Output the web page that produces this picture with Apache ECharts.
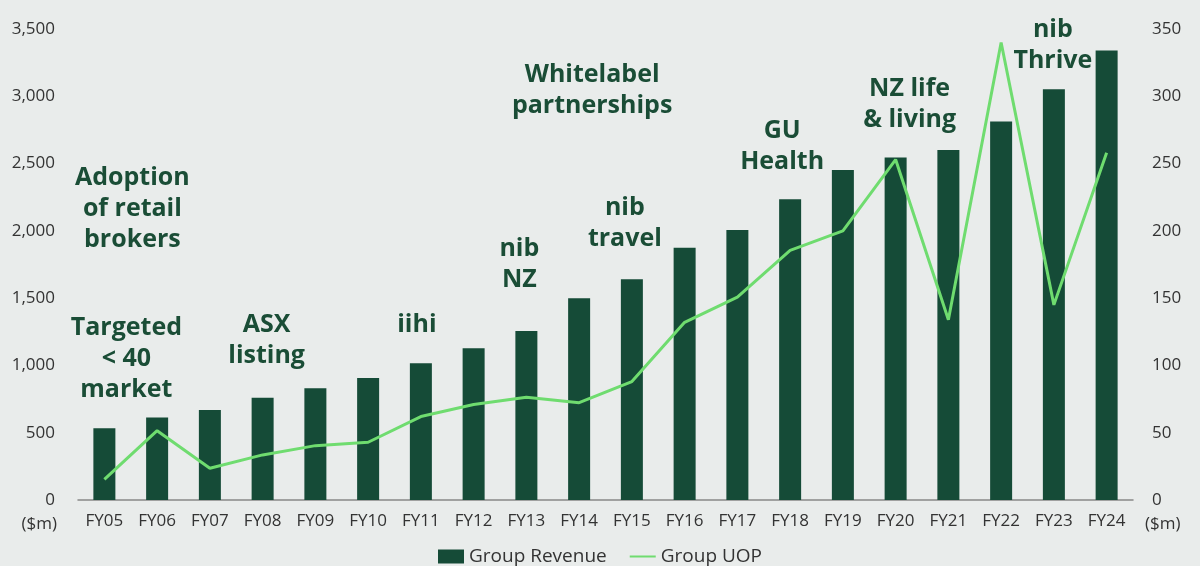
<!DOCTYPE html>
<html>
<head>
<meta charset="utf-8">
<script src="https://cdn.jsdelivr.net/npm/echarts@6/dist/echarts.min.js"></script>
<style>
html,body{margin:0;padding:0;background:#e9eceb;}
#main{width:1200px;height:566px;}
</style>
</head>
<body>
<div id="main"></div>
<script>
var categories = ['FY05','FY06','FY07','FY08','FY09','FY10','FY11','FY12','FY13','FY14','FY15','FY16','FY17','FY18','FY19','FY20','FY21','FY22','FY23','FY24'];
var groupRevenue = [533, 613, 669, 760, 830, 906, 1017, 1128, 1256, 1500, 1641, 1874, 2006, 2235, 2452, 2545, 2601, 2812, 3053, 3340];
var groupUOP = [15.4, 51.5, 23.6, 33.5, 40.4, 42.9, 62, 71, 76.3, 72.3, 88, 132, 150.7, 185.5, 200, 253, 134, 340, 145, 258];
var leftTicks = [0, 500, 1000, 1500, 2000, 2500, 3000, 3500];
var rightTicks = [0, 50, 100, 150, 200, 250, 300, 350];
// annotation text, category, height on revenue scale
var annotations = [
  {text:'Adoption\nof retail\nbrokers', cat:'FY05', value:2162, dx:28},
  {text:'Targeted\n< 40\nmarket', cat:'FY05', value:1048, dx:22},
  {text:'ASX\nlisting', cat:'FY08', value:1189, dx:4},
  {text:'iihi', cat:'FY11', value:1300, dx:-4},
  {text:'nib\nNZ', cat:'FY13', value:1750, dx:-7},
  {text:'nib\ntravel', cat:'FY15', value:2055, dx:-7},
  {text:'Whitelabel\npartnerships', cat:'FY14', value:3043, dx:13},
  {text:'GU\nHealth', cat:'FY18', value:2631, dx:-8},
  {text:'NZ life\n& living', cat:'FY20', value:2939, dx:14},
  {text:'nib\nThrive', cat:'FY23', value:3377, dx:-1}
];

var FONT = '"Open Sans", sans-serif';
var chart = echarts.init(document.getElementById('main'));
chart.setOption({
  backgroundColor:'#e9eceb',
  animation:false,
  grid:{left:78, right:67, top:29, bottom:66, containLabel:false},
  legend:{
    bottom:-5, left:'center', itemWidth:26, itemHeight:14, itemGap:22,
    textStyle:{fontFamily:FONT, fontSize:19, color:'#333'},
    data:[{name:'Group Revenue', icon:'rect'}, {name:'Group UOP', itemStyle:{opacity:0}}]
  },
  xAxis:{
    type:'category', data:categories,
    axisLine:{lineStyle:{color:'#888', width:1.5}},
    axisTick:{show:false},
    axisLabel:{fontFamily:FONT, fontSize:17, color:'#333', margin:13}
  },
  yAxis:[
    {type:'value', min:0, max:3500, interval:500,
     splitLine:{show:false}, axisLine:{show:false}, axisTick:{show:false},
     axisLabel:{fontFamily:FONT, fontSize:17, color:'#333', margin:23,
       formatter:function(v){ return leftTicks.indexOf(v) >= 0 ? v.toLocaleString('en-US') : ''; }}},
    {type:'value', min:0, max:350, interval:50,
     splitLine:{show:false}, axisLine:{show:false}, axisTick:{show:false},
     axisLabel:{fontFamily:FONT, fontSize:17, color:'#333', margin:19,
       formatter:function(v){ return rightTicks.indexOf(v) >= 0 ? String(v) : ''; }}}
  ],
  graphic:[
    {type:'text', right:1143, top:516, style:{text:'($m)', font:'17px "Open Sans", sans-serif', fill:'#333', textAlign:'right'}},
    {type:'text', left:1145, top:516, style:{text:'($m)', font:'17px "Open Sans", sans-serif', fill:'#333'}}
  ],
  series:[
    {name:'Group Revenue', type:'bar', data:groupRevenue, barWidth:22, yAxisIndex:0,
     itemStyle:{color:'#154b37'},
     markPoint:{
       symbol:'circle', symbolSize:0, silent:true,
       data:annotations.map(function(a){
         return {coord:[a.cat, a.value],
           label:{show:true, formatter:a.text, position:'inside', offset:[a.dx,0],
             fontFamily:FONT, fontWeight:'bold', fontSize:25, lineHeight:31,
             color:'#1a4d36', align:'center', verticalAlign:'middle'}};
       })
     }},
    {name:'Group UOP', type:'line', data:groupUOP, yAxisIndex:1,
     symbol:'none', lineStyle:{color:'#6fdc6f', width:3}, itemStyle:{color:'#6fdc6f'}}
  ]
});
</script>
</body>
</html>
